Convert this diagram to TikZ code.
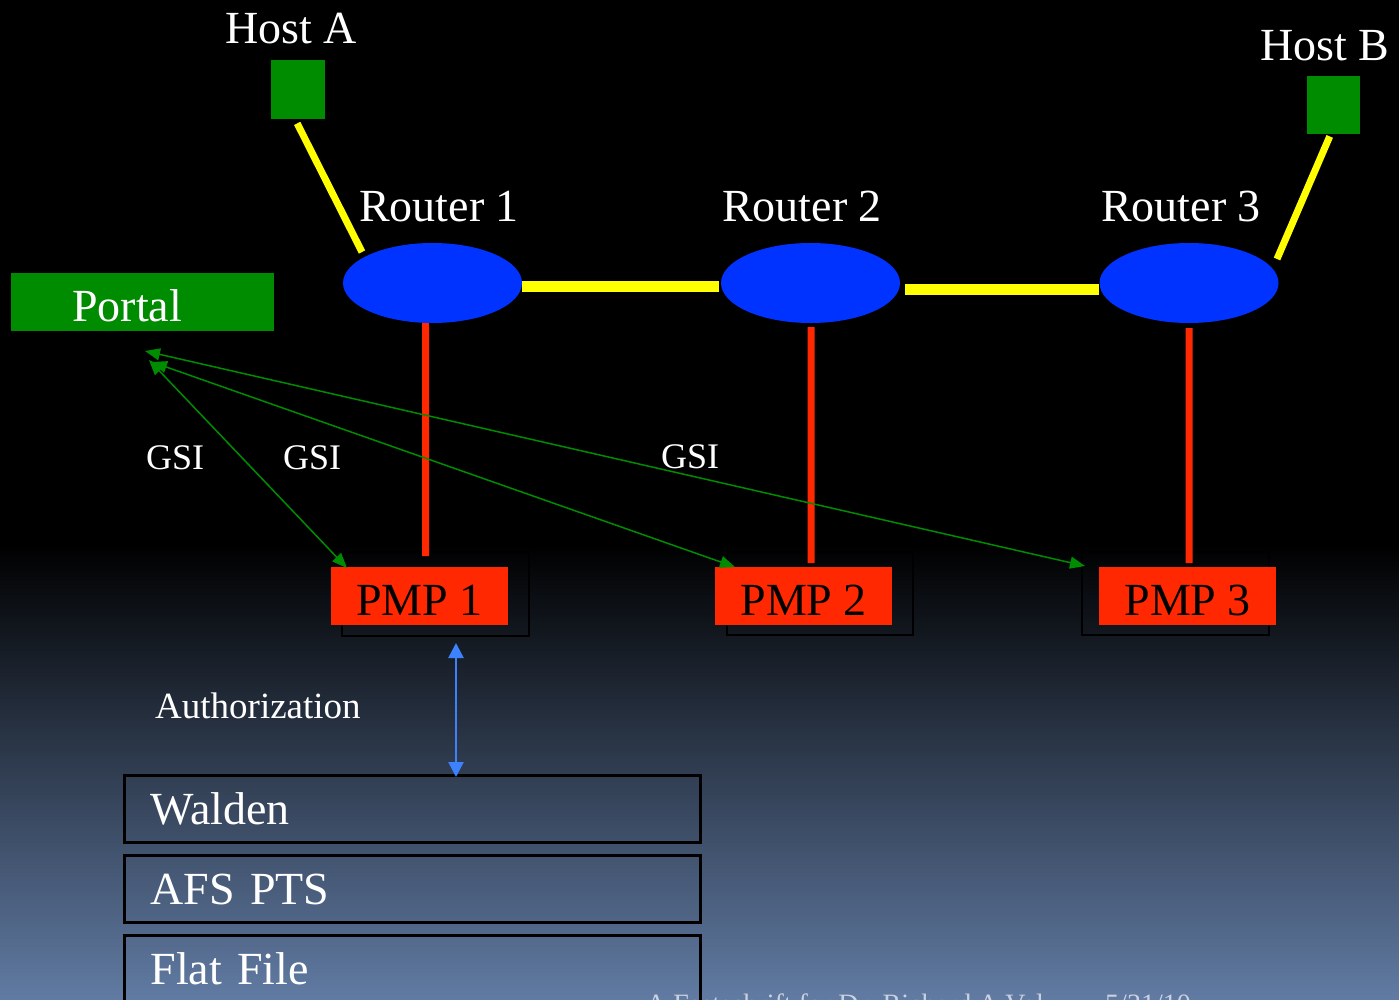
\documentclass[tikz,border=0pt]{standalone}
\usepackage{fontspec}
\setmainfont{Liberation Serif}
\usetikzlibrary{shapes.geometric,arrows.meta,calc}
\definecolor{hostgreen}{RGB}{0,140,0}
\definecolor{routerblue}{RGB}{0,51,255}
\definecolor{pmpred}{RGB}{255,40,0}
\definecolor{linkyellow}{RGB}{255,255,0}
\definecolor{authblue}{RGB}{60,130,255}
\definecolor{deepslate}{RGB}{97,123,163}
\definecolor{footgrey}{RGB}{200,210,225}
\pgfdeclarelayer{bg}
\pgfdeclarelayer{links}
\pgfsetlayers{bg,links,main}
\begin{document}
\begin{tikzpicture}[x=1pt,y=-1pt,
  txt/.style={text=white,inner sep=0pt,anchor=base west,font=\fontsize{46}{50}\selectfont},
  gsitxt/.style={txt,font=\fontsize{36}{40}\selectfont},
  foot/.style={text=footgrey,inner sep=0pt,anchor=base west,font=\fontsize{28}{30}\selectfont},
  hostbox/.style={rectangle,fill=hostgreen,draw=none,inner sep=0pt,anchor=north west},
  router/.style={ellipse,fill=routerblue,inner sep=0pt,minimum width=179pt,minimum height=80pt},
  pmp/.style={rectangle,fill=pmpred,inner sep=0pt,minimum width=177pt,minimum height=58pt,
    anchor=north west,text height=38pt,text depth=0pt,font=\fontsize{46}{50}\selectfont},
  pmpframe/.style={draw=black,line width=2pt},
  store/.style={rectangle,draw=black,line width=3pt,anchor=north west,minimum width=576pt,
    minimum height=67pt,inner xsep=26pt,inner ysep=0pt,text width=524pt,align=left,
    text height=30pt,text depth=0pt,text=white,font=\fontsize{46}{50}\selectfont},
  hostlink/.style={draw=linkyellow,line width=7pt},
  trunk/.style={draw=linkyellow,line width=11pt},
  uplink/.style={draw=pmpred,line width=7pt},
  gsi/.style={draw=hostgreen,line width=1.5pt,
    {Triangle[length=15pt,width=12pt]}-{Triangle[length=15pt,width=12pt]}},
  auth/.style={draw=authblue,line width=2.5pt,
    {Triangle[length=15pt,width=15pt]}-{Triangle[length=15pt,width=15pt]}},
]
\useasboundingbox (0,0) rectangle (1399,1000);
\clip (0,0) rectangle (1399,1000);

% background: black top, fading into slate blue
\begin{pgfonlayer}{bg}
  \fill[black] (0,0) rectangle (1399,546);
  \shade[top color=black,bottom color=deepslate] (0,545) rectangle (1399,1000);
\end{pgfonlayer}

% hosts
\node[hostbox,minimum width=54pt,minimum height=59pt] (hostA) at (271,60) {};
\node[hostbox,minimum width=53pt,minimum height=58pt] (hostB) at (1307,76) {};
\node[txt] (hostAlbl) at (225,44) {Host A};
\node[txt] (hostBlbl) at (1260,61) {Host B};

% routers
\node[router] (r1) at (432.5,283) {};
\node[router] (r2) at (810.5,283) {};
\node[router] (r3) at (1189,283) {};
\node[txt] (r1lbl) at (359,222) {Router 1};
\node[txt] (r2lbl) at (722,222) {Router 2};
\node[txt] (r3lbl) at (1101,222) {Router 3};

% portal
\node[hostbox,minimum width=263pt,minimum height=58pt] (portal) at (11,273) {};
\node[txt] (portallbl) at (72,321) {Portal};

% measurement points
\node[pmp] (pmp1) at (331,567) {PMP 1};
\node[pmp] (pmp2) at (715,567) {PMP 2};
\node[pmp] (pmp3) at (1099,567) {PMP 3};

% authorization back ends
\node[store] (walden) at (123,774) {Walden};
\node[store] (afs) at (123,854) {AFS PTS};
\node[store] (flat) at (123,934) {Flat File};

% labels
\node[gsitxt] (gsi1) at (146,469) {GSI};
\node[gsitxt] (gsi2) at (283,469) {GSI};
\node[gsitxt] (gsi3) at (661,468) {GSI};
\node[txt,font=\fontsize{37}{40}\selectfont] (authlbl) at (155,718) {Authorization};
\node[foot] (foot1) at (646,1013) {A Festschrift for Dr. Richard A Volz};
\node[foot] (foot2) at (1105,1013) {5/31/10};

% free ends of the connectors
\coordinate (aEnd) at (362,252);
\coordinate (bEnd) at (1277,259);
\coordinate (gsiA) at (149,360);
\coordinate (gsiB) at (152,362);
\coordinate (gsiC) at (145,351);
\coordinate (authTop) at (456,643);

\begin{pgfonlayer}{links}
  % text-box frames behind the PMP labels
  \draw[pmpframe] (342,552) rectangle (529,636);
  \draw[pmpframe] (727,552) rectangle (913,635);
  \draw[pmpframe] (1082,552) rectangle (1269,635);
  % host uplinks
  \draw[hostlink] ([xshift=-1pt,yshift=-4pt]hostA.south) -- (aEnd);
  \draw[hostlink] ([xshift=-4pt,yshift=-2pt]hostB.south) -- (bEnd);
  % router trunks
  \draw[trunk] ([yshift=-3pt]r1.east) -- ([xshift=-2pt,yshift=-3pt]r2.west);
  \draw[trunk] ([xshift=5pt,yshift=-6pt]r2.east) -- ([yshift=-6pt]r3.west);
  % router to PMP taps
  \draw[uplink] ([xshift=-7pt,yshift=4pt]r1.south) -- ([xshift=6pt,yshift=11pt]pmp1.north);
  \draw[uplink] ([xshift=0.5pt,yshift=-4pt]r2.south) -- ([xshift=7.5pt,yshift=4pt]pmp2.north);
  \draw[uplink] ([yshift=-5pt]r3.south) -- ([xshift=1.5pt,yshift=4pt]pmp3.north);
\end{pgfonlayer}

% GSI sessions from the portal
\draw[gsi] (gsiA) -- ([xshift=16pt,yshift=-1pt]pmp1.north west);
\draw[gsi] (gsiB) -- ([xshift=20pt]pmp2.north west);
\draw[gsi] (gsiC) -- ([xshift=-14pt,yshift=1pt]pmp3.north west);

% authorization query
\draw[auth] (authTop) -- ([yshift=-3pt]authTop |- walden.north);
\end{tikzpicture}
\end{document}
